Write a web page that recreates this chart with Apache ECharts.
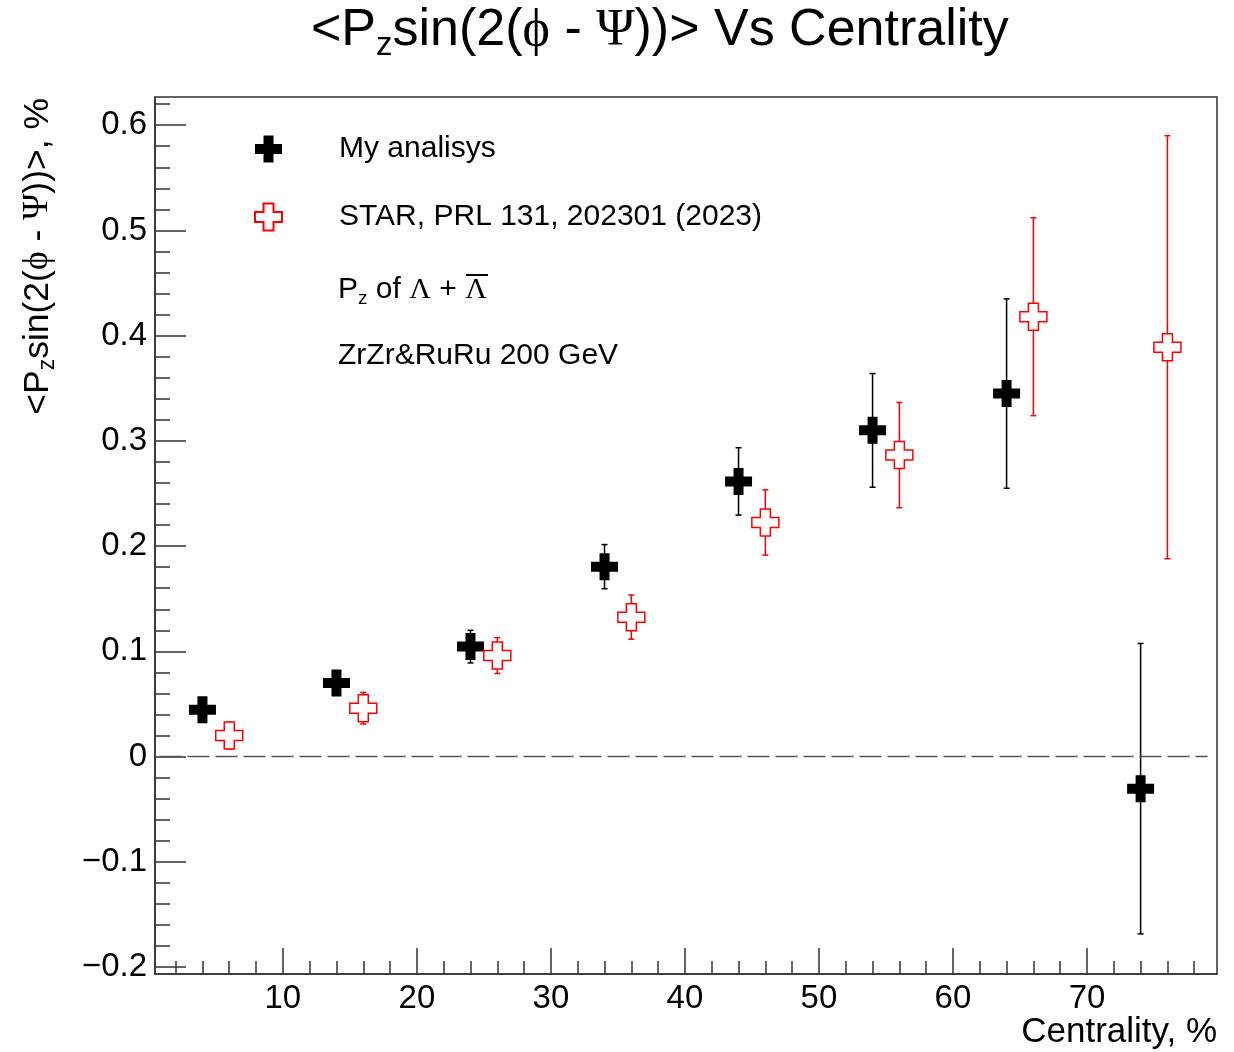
<!DOCTYPE html>
<html>
<head>
  <meta charset="utf-8">
  <title>Pz sin vs centrality</title>
  <style>
    html, body { margin: 0; padding: 0; background: #fff; }
  </style>
</head>
<body>
  <div id="main" style="width: 1234px;height:1052px;"></div>
</body>
<script src="https://cdn.jsdelivr.net/npm/echarts@6/dist/echarts.min.js"></script>
<script>
  // my analysis (black full crosses)
  let myX = [4, 14, 24, 34, 44, 54, 64, 74];
  let myY = [0.0445, 0.0700, 0.1045, 0.1805, 0.2615, 0.3100, 0.3450, -0.0305];
  let myErr = [0.008, 0.009, 0.0155, 0.021, 0.032, 0.054, 0.090, 0.138];

  // STAR, PRL 131, 202301 (red open crosses)
  let starX = [6, 16, 26, 36, 46, 56, 66, 76];
  let starY = [0.0200, 0.0460, 0.0960, 0.1325, 0.2225, 0.2865, 0.4180, 0.3890];
  let starErr = [0.0128, 0.015, 0.017, 0.021, 0.031, 0.050, 0.094, 0.201];

  let xMajor = [10, 20, 30, 40, 50, 60, 70];
  let yMajor = [-0.2, -0.1, 0, 0.1, 0.2, 0.3, 0.4, 0.5, 0.6];
  let zeroLineX = [0.5, 79];

  let xMinor = [];
  for (let i = 2; i < 80; i += 2) if (i % 10) xMinor.push(i);
  let yMinor = [];
  for (let i = -10; i <= 31; i++) if (i % 5) yMinor.push(i / 50);

  const crossPath = 'path://M8.5,0H18.5V8.5H27V18.5H18.5V27H8.5V18.5H0V8.5H8.5Z';
  const axisColor = '#333';
  const sub = { fontSize: 33, lineHeight: 20, padding: [30, 0, 0, 0] };
  const greek = { fontFamily: 'Liberation Serif', fontSize: 52, lineHeight: 58 };

  function errBars(color) {
    return function (params, api) {
      let x = api.value(0), y = api.value(1), e = api.value(2);
      let top = api.coord([x, y + e]);
      let bot = api.coord([x, y - e]);
      let st = { stroke: color, lineWidth: 1.5 };
      return {
        type: 'group',
        children: [
          { type: 'line', shape: { x1: top[0], y1: top[1], x2: bot[0], y2: bot[1] }, style: st },
          { type: 'line', shape: { x1: top[0] - 3, y1: top[1], x2: top[0] + 3, y2: top[1] }, style: st },
          { type: 'line', shape: { x1: bot[0] - 3, y1: bot[1], x2: bot[0] + 3, y2: bot[1] }, style: st }
        ]
      };
    };
  }

  var myChart = echarts.init(document.getElementById('main'));

  option = {
    animation: false,
    backgroundColor: '#fff',
    textStyle: { fontFamily: 'Liberation Sans', color: '#000' },
    title: {
      text: '<P{s|z}sin(2({g|ϕ} - {g|Ψ}))> Vs Centrality',
      left: 311,
      top: 2,
      padding: 0,
      textStyle: {
        fontSize: 52, fontWeight: 'normal', color: '#000', lineHeight: 58,
        rich: { s: sub, g: greek }
      }
    },
    grid: {
      left: 155, top: 97, right: 17, bottom: 78,
      show: true, borderColor: axisColor, borderWidth: 1.5
    },
    legend: {
      left: 254, top: 134, orient: 'vertical', padding: 0,
      itemWidth: 27, itemHeight: 27, itemGap: 38,
      selectedMode: false,
      data: ['My analisys', 'STAR, PRL 131, 202301 (2023)'],
      formatter: name => '{gap|}{t|' + name + '}',
      textStyle: {
        rich: { gap: { width: 52 }, t: { fontSize: 30, lineHeight: 26, color: '#000' } }
      }
    },
    xAxis: [{
      type: 'value', min: 0.46, max: 79.7, position: 'bottom',
      axisLine: { show: true, onZero: false, lineStyle: { color: axisColor, width: 1.5 } },
      axisTick: { show: true, inside: true, length: 26, customValues: xMajor, lineStyle: { color: axisColor, width: 1.5 } },
      axisLabel: { customValues: xMajor, fontSize: 33, margin: 8, color: '#000' },
      splitLine: { show: false }
    }, {
      type: 'value', min: 0.46, max: 79.7, position: 'bottom',
      axisLine: { show: false, onZero: false },
      axisTick: { show: true, inside: true, length: 13, customValues: xMinor, lineStyle: { color: axisColor, width: 1.5 } },
      axisLabel: { show: false },
      splitLine: { show: false }
    }],
    yAxis: [{
      type: 'value', min: -0.2066, max: 0.6268, position: 'left',
      axisLine: { show: true, onZero: false, lineStyle: { color: axisColor, width: 1.5 } },
      axisTick: { show: true, inside: true, length: 31, customValues: yMajor, lineStyle: { color: axisColor, width: 1.5 } },
      axisLabel: {
        customValues: yMajor, fontSize: 33, margin: 8, color: '#000',
        formatter: v => Math.abs(v) < 1e-9 ? '0' : v.toFixed(1).replace('-', '\u2212')
      },
      splitLine: { show: false }
    }, {
      type: 'value', min: -0.2066, max: 0.6268, position: 'left',
      axisLine: { show: false, onZero: false },
      axisTick: { show: true, inside: true, length: 15, customValues: yMinor, lineStyle: { color: axisColor, width: 1.5 } },
      axisLabel: { show: false },
      splitLine: { show: false }
    }],
    graphic: [{
      type: 'text', x: 38, y: 98, rotation: Math.PI / 2,
      style: {
        text: '<P{s|z}sin(2({g|ϕ} - {g|Ψ}))>, %',
        fontFamily: 'Liberation Sans', fontSize: 35.5, lineHeight: 40, fill: '#000',
        align: 'right', verticalAlign: 'middle',
        rich: {
          s: { fontSize: 23, lineHeight: 14, padding: [20, 0, 0, 0] },
          g: { fontFamily: 'Liberation Serif', fontSize: 35.5, lineHeight: 40 }
        }
      }
    }, {
      type: 'text', x: 1217, y: 1032,
      style: {
        text: 'Centrality, %', fontFamily: 'Liberation Sans', fontSize: 35, fill: '#000',
        align: 'right', verticalAlign: 'middle'
      }
    }, {
      type: 'text', x: 338, y: 290,
      style: {
        text: 'P{s|z} of {g|Λ} + {g|Λ}',
        fontFamily: 'Liberation Sans', fontSize: 30, lineHeight: 34, fill: '#000',
        align: 'left', verticalAlign: 'middle',
        rich: {
          s: { fontSize: 19, lineHeight: 12, padding: [18, 0, 0, 0] },
          g: { fontFamily: 'Liberation Serif', fontSize: 30, lineHeight: 34 }
        }
      }
    }, {
      // overline of the anti-lambda
      type: 'line', shape: { x1: 466, y1: 275, x2: 488, y2: 275 },
      style: { stroke: '#000', lineWidth: 2 }
    }, {
      type: 'text', x: 338, y: 356,
      style: {
        text: 'ZrZr&RuRu 200 GeV', fontFamily: 'Liberation Sans', fontSize: 30, fill: '#000',
        align: 'left', verticalAlign: 'middle'
      }
    }],
    series: [{
      type: 'line',
      xAxisIndex: 0, yAxisIndex: 0,
      data: zeroLineX.map(x => [x, 0]),
      symbol: 'none', silent: true,
      lineStyle: { color: '#555', width: 1.5, type: [22, 6], dashOffset: 24 }
    }, {
      type: 'custom', name: 'myErr',
      xAxisIndex: 0, yAxisIndex: 0,
      data: myX.map((x, i) => [x, myY[i], myErr[i]]),
      encode: { x: 0, y: 1 },
      renderItem: errBars('#000')
    }, {
      type: 'custom', name: 'starErr',
      xAxisIndex: 0, yAxisIndex: 0,
      data: starX.map((x, i) => [x, starY[i], starErr[i]]),
      encode: { x: 0, y: 1 },
      renderItem: errBars('#f00')
    }, {
      type: 'scatter', name: 'My analisys',
      xAxisIndex: 0, yAxisIndex: 0,
      data: myX.map((x, i) => [x, myY[i]]),
      symbol: crossPath, symbolSize: 27,
      itemStyle: { color: '#000', opacity: 1 }
    }, {
      type: 'scatter', name: 'STAR, PRL 131, 202301 (2023)',
      xAxisIndex: 0, yAxisIndex: 0,
      data: starX.map((x, i) => [x, starY[i]]),
      symbol: crossPath, symbolSize: 27,
      itemStyle: { color: '#fff', borderColor: '#f00', borderWidth: 1.5, opacity: 1 }
    }]
  };

  myChart.setOption(option);
</script>
</html>
